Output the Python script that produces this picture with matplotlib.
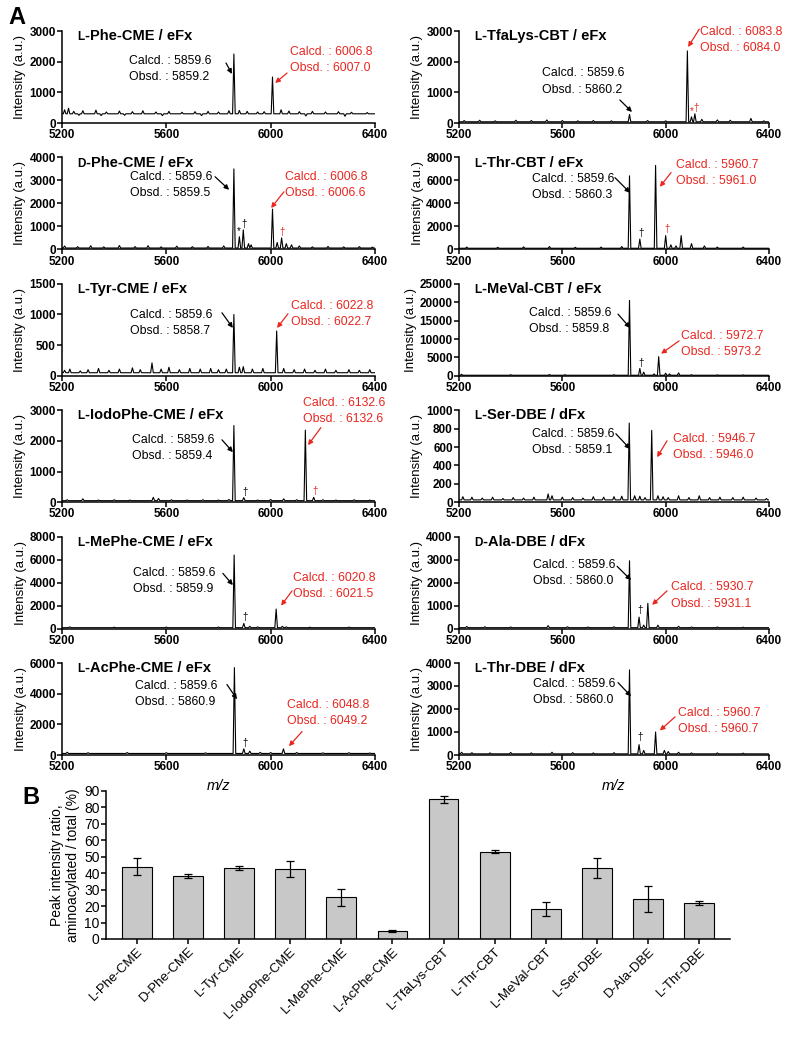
import numpy as np
import matplotlib
matplotlib.use('Agg')
from matplotlib import pyplot as plt

plt.rcParams['font.family'] = ['Liberation Sans', 'DejaVu Sans']

####################################
#            Data                  #
####################################
# panel order: left column top->bottom, then right column top->bottom
prefix = ['L', 'D', 'L', 'L', 'L', 'L', 'L', 'L', 'L', 'L', 'D', 'L']
names = ['-Phe-CME / eFx', '-Phe-CME / eFx', '-Tyr-CME / eFx', '-IodoPhe-CME / eFx',
         '-MePhe-CME / eFx', '-AcPhe-CME / eFx', '-TfaLys-CBT / eFx', '-Thr-CBT / eFx',
         '-MeVal-CBT / eFx', '-Ser-DBE / dFx', '-Ala-DBE / dFx', '-Thr-DBE / dFx']
ymax = [3000, 4000, 1500, 3000, 8000, 6000, 3000, 8000, 25000, 1000, 4000, 4000]
ystep = [1000, 1000, 500, 1000, 2000, 2000, 1000, 2000, 5000, 200, 1000, 1000]

calcd_ref = 5859.6
obsd_ref = [5859.2, 5859.5, 5858.7, 5859.4, 5859.9, 5860.9,
            5860.2, 5860.3, 5859.8, 5859.1, 5860.0, 5860.0]
calcd_prod = [6006.8, 6006.8, 6022.8, 6132.6, 6020.8, 6048.8,
              6083.8, 5960.7, 5972.7, 5946.7, 5930.7, 5960.7]
obsd_prod = [6007.0, 6006.6, 6022.7, 6132.6, 6021.5, 6049.2,
             6084.0, 5961.0, 5973.2, 5946.0, 5931.1, 5960.7]

baseline = [300, 60, 50, 50, 80, 100, 40, 100, 150, 25, 40, 50]

# (m/z, intensity) of peaks and noise spikes
spec1 = [(5210, 430), (5225, 480), (5245, 380), (5265, 250), (5280, 400), (5330, 420), (5350, 240),
         (5370, 360), (5420, 390), (5440, 250), (5470, 370), (5510, 400), (5560, 360), (5585, 240),
         (5610, 380), (5660, 350), (5710, 370), (5735, 240), (5760, 380), (5800, 360), (5840, 400),
         (5859, 2250), (5880, 410), (5910, 380), (5950, 360), (5975, 370), (6007, 1500), (6040, 430),
         (6070, 390), (6110, 370), (6135, 230), (6160, 380), (6210, 360), (6260, 370), (6285, 220),
         (6310, 350), (6370, 340)]
spec2 = [(5210, 150), (5260, 120), (5310, 160), (5360, 110), (5420, 170), (5480, 120), (5530, 160),
         (5580, 110), (5640, 140), (5700, 120), (5760, 130), (5820, 150), (5859, 3500), (5880, 550),
         (5895, 850), (5915, 250), (5925, 200), (6007, 1750), (6025, 300), (6042, 500), (6060, 250),
         (6080, 200), (6110, 150), (6160, 110), (6220, 130), (6280, 110), (6340, 120), (6390, 100)]
spec3 = [(5210, 90), (5230, 110), (5270, 80), (5300, 100), (5340, 120), (5380, 90), (5420, 110),
         (5470, 130), (5500, 100), (5545, 210), (5580, 110), (5610, 140), (5650, 100), (5690, 120),
         (5730, 110), (5770, 120), (5800, 100), (5830, 110), (5859, 1000), (5880, 140), (5895, 150),
         (5930, 110), (5970, 120), (6023, 730), (6050, 120), (6090, 100), (6130, 110), (6170, 90),
         (6210, 110), (6250, 90), (6300, 100), (6340, 90), (6380, 100)]
spec4 = [(5220, 80), (5280, 110), (5340, 70), (5400, 80), (5460, 70), (5550, 160), (5570, 120),
         (5620, 80), (5680, 70), (5740, 80), (5800, 70), (5840, 90), (5859, 2500), (5897, 150),
         (5950, 70), (6000, 90), (6050, 110), (6100, 80), (6133, 2350), (6165, 160), (6200, 80),
         (6250, 70), (6320, 80), (6380, 70)]
spec5 = [(5230, 150), (5400, 120), (5600, 130), (5800, 140), (5860, 6400), (5897, 450), (5920, 200),
         (5950, 150), (6021, 1700), (6045, 200), (6060, 150), (6150, 120), (6300, 130)]
spec6 = [(5220, 180), (5300, 150), (5450, 160), (5600, 150), (5750, 140), (5861, 5700), (5897, 400),
         (5920, 250), (5960, 170), (6000, 160), (6049, 400), (6100, 160), (6200, 140), (6300, 150),
         (6380, 130)]
spec7 = [(5220, 80), (5280, 90), (5340, 70), (5420, 90), (5480, 80), (5540, 100), (5600, 80),
         (5660, 70), (5720, 80), (5790, 70), (5860, 280), (5930, 80), (6000, 70), (6084, 2350),
         (6100, 200), (6113, 300), (6140, 120), (6200, 100), (6250, 90), (6330, 150), (6380, 70)]
spec8 = [(5230, 200), (5350, 180), (5450, 220), (5550, 250), (5650, 180), (5750, 200), (5830, 250),
         (5860, 6400), (5900, 900), (5961, 7300), (6000, 1200), (6020, 400), (6040, 300), (6060, 1200),
         (6100, 500), (6150, 300), (6200, 200), (6300, 200)]
spec9 = [(5210, 400), (5400, 300), (5550, 350), (5610, 300), (5800, 300), (5860, 20500), (5900, 2000),
         (5915, 1000), (5955, 500), (5973, 5200), (6000, 700), (6015, 500), (6050, 800), (6100, 300),
         (6200, 250), (6300, 250)]
spec10 = [(5215, 60), (5250, 55), (5290, 45), (5330, 55), (5370, 40), (5410, 50), (5450, 45),
          (5490, 55), (5545, 90), (5560, 70), (5600, 55), (5640, 50), (5680, 45), (5720, 60),
          (5760, 55), (5800, 60), (5830, 65), (5859, 860), (5880, 70), (5900, 65), (5920, 50),
          (5946, 780), (5970, 70), (5990, 60), (6010, 50), (6050, 70), (6090, 50), (6130, 70),
          (6170, 50), (6210, 55), (6260, 50), (6300, 55), (6350, 45), (6390, 40)]
spec11 = [(5230, 90), (5300, 80), (5400, 70), (5545, 130), (5620, 80), (5700, 70), (5800, 80),
          (5860, 2950), (5897, 500), (5915, 150), (5931, 1100), (5970, 150), (6050, 100), (6100, 70),
          (6200, 70), (6300, 60)]
spec12 = [(5210, 120), (5250, 100), (5320, 90), (5400, 110), (5480, 90), (5560, 120), (5640, 100),
          (5720, 90), (5800, 100), (5860, 3700), (5897, 450), (5915, 200), (5961, 1000), (5995, 200),
          (6010, 150), (6050, 120), (6100, 90), (6200, 90), (6300, 80)]
spectra = [spec1, spec2, spec3, spec4, spec5, spec6, spec7, spec8, spec9, spec10, spec11, spec12]

# side-peak symbols: (m/z, intensity, symbol, red?)
marks = [[], [(5878, 600, '*', False), (5897, 900, '\u2020', False), (6043, 550, '\u2020', True)],
         [], [(5903, 180, '\u2020', False), (6170, 190, '\u2020', True)],
         [(5900, 550, '\u2020', False)], [(5903, 450, '\u2020', False)],
         [(6100, 220, '*', True), (6118, 340, '\u2020', True)],
         [(5905, 1000, '\u2020', False), (6005, 1300, '\u2020', True)],
         [(5905, 2200, '\u2020', False)], [], [(5900, 600, '\u2020', False)],
         [(5900, 550, '\u2020', False)]]

# panel B
bar_labels = ['L-Phe-CME', 'D-Phe-CME', 'L-Tyr-CME', 'L-IodoPhe-CME', 'L-MePhe-CME', 'L-AcPhe-CME',
              'L-TfaLys-CBT', 'L-Thr-CBT', 'L-MeVal-CBT', 'L-Ser-DBE', 'D-Ala-DBE', 'L-Thr-DBE']
ratio = [44, 38.3, 43.3, 42.6, 25.3, 5, 85, 53.2, 18.2, 43.2, 24.5, 22]
ratio_err = [5, 1.5, 1.3, 4.8, 5.3, 0.5, 2.2, 1.2, 4.5, 6, 8, 1.2]

####################################
#            Layout                #
####################################
# annotation placement in axes fraction: text (x, y), arrow tail, arrow head
blk_txt = [(0.214, 0.587), (0.217, 0.70), (0.217, 0.57), (0.224, 0.594), (0.227, 0.516), (0.233, 0.665),
           (0.268, 0.451), (0.235, 0.68), (0.226, 0.60), (0.235, 0.655), (0.239, 0.60), (0.239, 0.686)]
blk_arr = [((0.524, 0.652), (0.543, 0.533)), ((0.489, 0.79), (0.534, 0.648)),
           ((0.511, 0.685), (0.546, 0.52)), ((0.511, 0.678), (0.546, 0.544)),
           ((0.514, 0.60), (0.546, 0.473)), ((0.527, 0.766), (0.559, 0.606)),
           ((0.519, 0.25), (0.558, 0.12)), ((0.503, 0.78), (0.552, 0.615)),
           ((0.513, 0.67), (0.552, 0.52)), ((0.506, 0.744), (0.552, 0.578)),
           ((0.51, 0.677), (0.555, 0.527)), ((0.513, 0.787), (0.555, 0.638))]
red_txt = [(0.728, 0.685), (0.712, 0.70), (0.732, 0.674), (0.77, 0.989), (0.738, 0.468), (0.719, 0.457),
           (0.778, 0.902), (0.70, 0.83), (0.716, 0.35), (0.69, 0.60), (0.684, 0.36), (0.706, 0.372)]
red_arr = [((0.719, 0.543), (0.681, 0.435)), ((0.709, 0.626), (0.668, 0.45)),
           ((0.722, 0.674), (0.687, 0.52)), ((0.827, 0.81), (0.786, 0.62)),
           ((0.735, 0.41), (0.70, 0.25)), ((0.767, 0.255), (0.725, 0.096)),
           ((0.775, 1.02), (0.739, 0.826)), ((0.684, 0.835), (0.648, 0.68)),
           ((0.71, 0.38), (0.652, 0.24)), ((0.671, 0.667), (0.639, 0.489)),
           ((0.671, 0.41), (0.623, 0.258)), ((0.697, 0.415), (0.648, 0.266))]

RED = '#e8261f'
W, H = 787, 1055


def trace(base, peaks, w=5):
    xs = [5200]
    ys = [base]
    for mz, h in sorted(peaks):
        xs += [mz - w, mz, mz + w]
        ys += [base, h, base]
    xs.append(6400)
    ys.append(base)
    return xs, ys


def style(ax):
    for s in ['top', 'right']:
        ax.spines[s].set_visible(False)
    for s in ['left', 'bottom']:
        ax.spines[s].set_linewidth(1.1)
    ax.tick_params(direction='out', width=1.1, length=3.5, pad=1)


fig = plt.figure(figsize=(W / 100, H / 100), dpi=100)

col_left = [62, 459]
col_width = [313, 310]
ax_h = 92
tops = [31 + 126.4 * r for r in range(6)]

for i in range(12):
    col = i // 6
    row = i % 6
    ax = fig.add_axes([col_left[col] / W, 1 - (tops[row] + ax_h) / H, col_width[col] / W, ax_h / H])
    style(ax)
    xs, ys = trace(baseline[i], spectra[i])
    ax.plot(xs, ys, color='black', lw=0.8)
    ax.set_xlim(5200, 6400)
    ax.set_ylim(0, ymax[i])
    ax.set_xticks([5200, 5600, 6000, 6400])
    ax.set_yticks(np.arange(0, ymax[i] + 1, ystep[i]))
    for lab in ax.get_xticklabels() + ax.get_yticklabels():
        lab.set_fontweight('bold')
        lab.set_fontsize(8.5)
    ax.set_ylabel('Intensity (a.u.)', fontsize=9.5, labelpad=2)

    # title with small-cap L / D
    t = ax.text(0.05, 0.90, prefix[i], transform=ax.transAxes, fontsize=8.5, fontweight='bold',
                va='baseline', ha='left')
    ax.annotate(names[i], xy=(1, 0), xycoords=t, va='bottom', ha='left',
                fontsize=10.5, fontweight='bold')

    ax.text(blk_txt[i][0], blk_txt[i][1], 'Calcd. : %.1f\nObsd. : %.1f' % (calcd_ref, obsd_ref[i]),
            transform=ax.transAxes, fontsize=8.8, ha='left', va='center', linespacing=1.45)
    ax.text(red_txt[i][0], red_txt[i][1], 'Calcd. : %.1f\nObsd. : %.1f' % (calcd_prod[i], obsd_prod[i]),
            transform=ax.transAxes, fontsize=8.8, ha='left', va='center', linespacing=1.45, color=RED)
    ax.annotate('', xy=blk_arr[i][1], xytext=blk_arr[i][0], xycoords='axes fraction',
                arrowprops=dict(arrowstyle='-|>', lw=0.9, color='black', mutation_scale=7,
                                shrinkA=0, shrinkB=0), annotation_clip=False)
    ax.annotate('', xy=red_arr[i][1], xytext=red_arr[i][0], xycoords='axes fraction',
                arrowprops=dict(arrowstyle='-|>', lw=0.9, color=RED, mutation_scale=7,
                                shrinkA=0, shrinkB=0), annotation_clip=False)
    for mz, h, sym, red in marks[i]:
        ax.text(mz, h, sym, ha='center', va='bottom', fontsize=7,
                color=RED if red else 'black')
    if row == 5:
        ax.set_xlabel('m/z', fontsize=10.5, style='italic', labelpad=4)

fig.text(8 / W, 1 - 18 / H, 'A', fontsize=17, fontweight='bold', ha='left', va='center')
fig.text(22 / W, 1 - 798 / H, 'B', fontsize=17, fontweight='bold', ha='left', va='center')

####################################
#            Panel B               #
####################################
axb = fig.add_axes([106 / W, 1 - 939 / H, (730 - 106) / W, (939 - 791) / H])
style(axb)
pos = np.arange(len(bar_labels))
axb.bar(pos, ratio, width=0.58, color='#c8c8c8', edgecolor='black', linewidth=0.8)
axb.errorbar(pos, ratio, yerr=ratio_err, fmt='none', ecolor='black', elinewidth=0.9, capsize=3, capthick=0.9)
axb.set_xlim(-0.6, len(bar_labels) - 0.4)
axb.set_ylim(0, 90)
axb.set_yticks(np.arange(0, 91, 10))
axb.set_xticks(pos)
axb.set_xticklabels(bar_labels, rotation=45, ha='right', rotation_mode='anchor', fontsize=9.5)
axb.tick_params(axis='y', labelsize=10)
axb.set_ylabel('Peak intensity ratio,\naminoacylated / total (%)', fontsize=10, labelpad=3)

plt.savefig('out.png', dpi=100)
